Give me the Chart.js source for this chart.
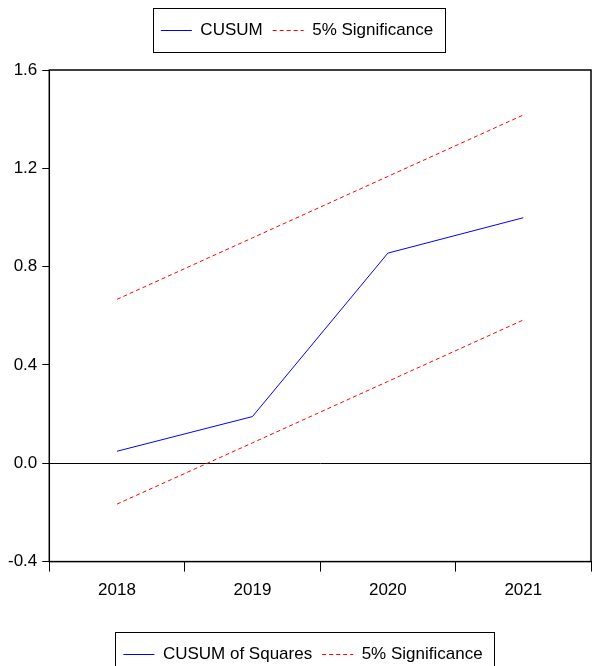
<!DOCTYPE html>
<html>
<head>
<meta charset="utf-8">
<script src="https://cdn.jsdelivr.net/npm/chart.js@4"></script>
<style>
body { margin: 0; background: #fff; overflow: hidden; }
#wrap { position: relative; width: 606px; height: 666px; overflow: hidden; }
#myChart { position: absolute; left: 0; top: 0; }
#squares { position: absolute; left: 0; top: 620px; }
</style>
</head>
<body>
<div id="wrap">
<canvas id="myChart" width="606" height="615"></canvas>
<canvas id="squares" width="606" height="80"></canvas>
</div>
<script>
var years = ["2018", "2019", "2020", "2021"];
var cusum = [0.049, 0.19, 0.855, 0.999];
var upper = [0.667, 0.917, 1.167, 1.417];
var lower = [-0.166, 0.083, 0.333, 0.583];
var yTicks = [-0.4, 0.0, 0.4, 0.8, 1.2, 1.6];

Chart.defaults.font.family = "'Liberation Sans', Arial, sans-serif";
Chart.defaults.font.size = 17;
Chart.defaults.color = '#000';

// box around the legend items
var legendBox = {
	id: 'legendBox',
	afterDraw: function (chart) {
		var boxes = chart.legend.legendHitBoxes;
		if (!boxes || !boxes.length) return;
		var l = boxes[0].left, r = 0, t = boxes[0].top, b = 0;
		boxes.forEach(function (h) {
			l = Math.min(l, h.left);
			r = Math.max(r, h.left + h.width);
			t = Math.min(t, h.top);
			b = Math.max(b, h.top + h.height);
		});
		var ctx = chart.ctx;
		ctx.save();
		ctx.setLineDash([]);
		ctx.strokeStyle = '#000';
		ctx.lineWidth = 1;
		ctx.strokeRect(Math.round(l - 8) + 0.5, Math.round(t - 14) + 0.5, Math.round(r - l + 20), Math.round(b - t + 27));
		ctx.restore();
	}
};

// more room under the legend
var legendGap = {
	id: 'legendGap',
	beforeInit: function (chart) {
		var fit = chart.legend.fit;
		chart.legend.fit = function () {
			fit.bind(chart.legend)();
			this.height += chart.options.plugins.legendGap.gap;
		};
	}
};

// full frame round the plot
var frame = {
	id: 'frame',
	afterDraw: function (chart) {
		var a = chart.chartArea;
		if (!a) return;
		var ctx = chart.ctx;
		ctx.save();
		ctx.strokeStyle = '#000';
		ctx.lineWidth = 1.5;
		ctx.strokeRect(a.left, a.top, a.right - a.left, a.bottom - a.top);
		ctx.restore();
	}
};

function legendLabels() {
	return {
		usePointStyle: true,
		pointStyle: 'line',
		pointStyleWidth: 31,
		padding: 10,
		color: '#000',
		filter: function (item) { return item.datasetIndex !== 2; },
		generateLabels: function (chart) {
			return chart.data.datasets.map(function (ds, i) {
				return {
					text: ds.label,
					datasetIndex: i,
					strokeStyle: ds.borderColor,
					fillStyle: ds.borderColor,
					lineDash: ds.borderDash || [],
					lineWidth: 1,
					pointStyle: 'line',
					fontColor: '#000',
					hidden: false
				};
			});
		}
	};
}

var ctx = document.getElementById("myChart");
var myChart = new Chart(ctx, {
	type: 'line',
	data: {
		labels: years,
		datasets: [{
			label: 'CUSUM',
			data: cusum,
			borderColor: '#0000ff',
			borderWidth: 1,
			pointRadius: 0,
			tension: 0
		}, {
			label: '5% Significance',
			data: upper,
			borderColor: '#ff0000',
			borderWidth: 1,
			borderDash: [4, 3],
			pointRadius: 0
		}, {
			label: '5% Significance',
			data: lower,
			borderColor: '#ff0000',
			borderWidth: 1,
			borderDash: [4, 3],
			pointRadius: 0
		}]
	},
	options: {
		responsive: false,
		animation: false,
		layout: { padding: { top: 12, left: 3, right: 15, bottom: 5 } },
		plugins: {
			legend: { position: 'top', labels: legendLabels() },
			legendGap: { gap: 21 },
			tooltip: { enabled: false }
		},
		scales: {
			x: {
				offset: true,
				grid: { offset: true, drawOnChartArea: false, tickLength: 10, tickColor: '#000' },
				border: { color: '#000' },
				ticks: { padding: 9 }
			},
			y: {
				min: yTicks[0],
				max: yTicks[yTicks.length - 1],
				afterBuildTicks: function (axis) {
					axis.ticks = yTicks.map(function (v) { return { value: v }; });
				},
				grid: {
					color: function (c) { return c.tick && c.tick.value === 0 ? '#000' : 'rgba(0,0,0,0)'; },
					tickColor: '#000',
					tickLength: 7
				},
				border: { color: '#000' },
				ticks: {
					padding: 5,
					callback: function (v) { return Number(v).toFixed(1); }
				}
			}
		}
	},
	plugins: [legendGap, legendBox, frame]
});

// legend of the next graph, cut by the page edge
var sq = new Chart(document.getElementById("squares"), {
	type: 'line',
	data: {
		labels: years,
		datasets: [{
			label: 'CUSUM of Squares',
			data: [null, null, null, null],
			borderColor: '#0000ff',
			borderWidth: 1
		}, {
			label: '5% Significance',
			data: [null, null, null, null],
			borderColor: '#ff0000',
			borderWidth: 1,
			borderDash: [4, 3]
		}]
	},
	options: {
		responsive: false,
		animation: false,
		layout: { padding: { top: 16 } },
		plugins: {
			legend: { position: 'top', labels: legendLabels() },
			legendGap: { gap: 0 },
			tooltip: { enabled: false }
		},
		scales: { x: { display: false }, y: { display: false } }
	},
	plugins: [legendGap, legendBox]
});
</script>
</body>
</html>
